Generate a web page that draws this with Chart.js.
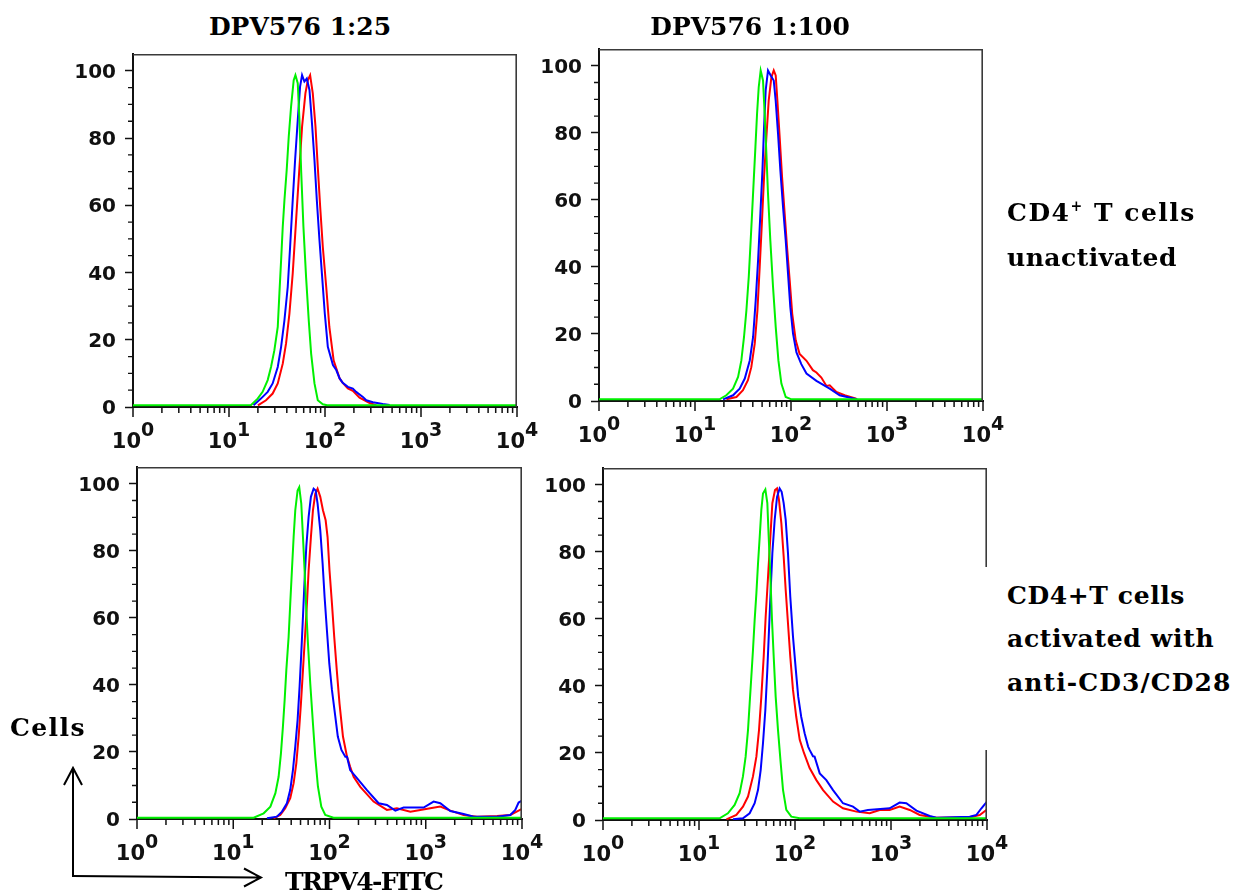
<!DOCTYPE html>
<html><head><meta charset="utf-8">
<script src="https://cdn.jsdelivr.net/npm/chart.js@4.4.1/dist/chart.umd.min.js"></script>
<style>
html,body{margin:0;padding:0;background:#fff;}
body{width:1237px;height:894px;position:relative;overflow:hidden;}
canvas{position:absolute;}
.lbl{position:absolute;font-family:"DejaVu Serif",serif;font-weight:bold;font-size:25px;line-height:25px;color:#000;white-space:nowrap;}
.sup{font-size:14px;position:relative;top:-10px;}
#box{position:absolute;left:985px;top:567px;width:252px;height:183px;background:#fff;}
</style></head><body>
<canvas id="c1"></canvas><canvas id="c2"></canvas><canvas id="c3"></canvas><canvas id="c4"></canvas>
<div class="lbl" style="left:200px;top:14px;width:200px;text-align:center;">DPV576 1:25</div>
<div class="lbl" style="left:650px;top:14px;width:200px;text-align:center;">DPV576 1:100</div>
<div class="lbl" style="left:1007px;top:200px;letter-spacing:1.5px;">CD4<span class="sup">+</span> T cells</div>
<div class="lbl" style="left:1007px;top:245px;letter-spacing:0.5px;">unactivated</div>
<div id="box">
  <div class="lbl" style="left:22px;top:16px;letter-spacing:0.6px;">CD4+T cells</div>
  <div class="lbl" style="left:22px;top:59px;letter-spacing:0.7px;">activated with</div>
  <div class="lbl" style="left:22px;top:103px;letter-spacing:1.1px;">anti-CD3/CD28</div>
</div>
<div class="lbl" style="left:10px;top:715px;letter-spacing:1.4px;">Cells</div>
<div class="lbl" style="left:285px;top:869px;letter-spacing:-1.6px;">TRPV4-FITC</div>
<svg width="1237" height="894" style="position:absolute;left:0;top:0;pointer-events:none">
  <path d="M73,877 L73,769 M64,785 L73,768 L82,785" stroke="#000" stroke-width="2" fill="none"/>
  <path d="M72,876 L261,877.5 M244,868.5 L261,877.5 L244,886.5" stroke="#000" stroke-width="2" fill="none"/>
</svg>
<script>
// ---- tick labels ----
const xMajorTicks = [1, 10, 100, 1000, 10000];
const xTickExponents = ['0', '1', '2', '3', '4'];
const xMinorMultipliers = [2, 3, 4, 5, 6, 7, 8, 9];
const yTicks = [0, 20, 40, 60, 80, 100];
const yMinorTicks = [5, 10, 15, 25, 30, 35, 45, 50, 55, 65, 70, 75, 85, 90, 95];

// ---- series: [fluorescence intensity, % of max] ----
// Panel 1: DPV576 1:25, unactivated
const p1Green = [[1,0.5],[17,0.6],[19.9,2.5],[22.4,4.5],[25.3,8],[27.4,11.9],[29.7,16.9],[32.2,23.8],[33.5,33.8],[34.9,43.7],[36.3,53.6],[37.8,61.5],[39.9,70.5],[41.9,80.4],[44.3,89.3],[47.2,97.2],[49.2,98.7],[52,96.3],[54.2,85.3],[56.4,70.5],[59.6,53.6],[63.5,38.7],[67.7,25.8],[71.7,15.9],[77.7,7],[84.1,2],[94.9,0.8],[105,0.5],[10000,0.5]];
const p1Blue = [[18,0.5],[21.5,2.5],[25.3,4.5],[28.5,7],[32.2,11.9],[34.9,17.9],[37.8,25.8],[40.9,35.7],[43.3,47.6],[46.1,61.5],[48.8,73.4],[52,85.3],[55,95.3],[57.7,98.7],[61,96.8],[64.6,97.7],[68.9,94.3],[72.8,85.3],[77.7,73.4],[82.2,61.5],[87.6,49.6],[93.4,38.7],[99.5,27.8],[107,17.9],[121,12.5],[131,11],[142,8.5],[153,7.2],[173,6],[195,5.5],[211,4.5],[248,3],[269,2],[316,1.4],[400,0.9],[472,0.6]];
const p1Red = [[20,0.5],[24.3,2],[28.5,4],[32.2,7],[36.3,12.9],[39.3,18.9],[42.6,27.8],[46.1,39.7],[50,55.6],[54.2,71.4],[57.7,83.4],[62.5,93.3],[66.2,97.2],[70,98.7],[74.6,93.3],[79.6,83.4],[84.1,71.4],[89.1,59.5],[94.9,47.6],[103,35.7],[111,23.8],[123,13.9],[131,11.5],[142,8.5],[153,7.2],[173,5.5],[195,4.8],[229,2.8],[292,1.2],[343,0.5]];
// Panel 2: DPV576 1:100, unactivated
const p2Green = [[1,0.5],[18,0.5],[21.2,1.7],[24.9,3.7],[28.1,7.2],[30.4,12.1],[32.4,19.1],[34.3,27],[36.3,37],[37.7,45.9],[39.3,55.9],[40.9,65.8],[42.6,75.8],[44.3,85.7],[46.1,93.6],[48.3,98.6],[51.1,95.6],[53.2,85.7],[55.4,73.8],[57.6,61.8],[60.9,47.9],[65,34],[69.3,22.1],[73.9,12.1],[79.4,5.2],[88.1,1.2],[101,0.5],[10000,0.5]];
const p2Blue = [[19.6,0.5],[24.9,1.7],[29.2,3.7],[33,6.7],[37.2,12.1],[40.3,19.1],[42.9,30],[45.4,42],[48,55.9],[50.4,68.8],[52.4,81.7],[54.5,92.7],[57.6,98.6],[61.5,97.1],[66.1,95.6],[69.2,89.7],[73.3,79.7],[77.5,68.8],[82.6,57.9],[88.1,47.9],[93.1,38],[98.4,28],[105,20.1],[114,14.5],[128,11],[145,8.2],[184,6],[253,3.7],[321,1.7],[460,0.7],[490,0.5]];
const p2Red = [[21.2,0.5],[27,1.2],[31.6,3.2],[35.6,6.2],[38.6,10.1],[41.9,17.1],[44.7,27],[47.2,40],[49.9,53.9],[52.4,66.8],[55.4,78.7],[58.6,89.7],[62.5,96.6],[66.1,98.6],[69.3,97.1],[72.1,89.7],[76.2,78.7],[80.7,66.8],[85.9,55.9],[90.9,45.9],[96.9,36],[103,26],[112,18.1],[123,14],[145,12],[169,9.2],[184,8.5],[207,7],[234,4.5],[253,4.7],[297,2.7],[362,1.7],[479,0.7]];
// Panel 3: DPV576 1:25, activated
const p3Green = [[1,0.4],[16.3,0.4],[20.7,1.7],[24.3,3.7],[27.4,7.7],[29.6,12.6],[31.3,19.6],[32.8,27.5],[34.2,35.5],[35.6,44.4],[37.6,54.3],[39.1,64.3],[40.7,74.2],[42.4,84.1],[44.1,92.1],[46.6,98],[48.5,99],[50.9,94.1],[53,84.1],[55.1,74.2],[57.4,62.3],[59.7,52.4],[63.1,40.4],[67.3,28.5],[71.1,18.6],[75.8,9.7],[82.2,3.7],[90.4,1.2],[110,0.4],[10000,0.4]];
const p3Blue = [[22.4,0.2],[28.4,0.7],[32.1,2.2],[36.1,4.7],[39.1,8.7],[41.7,14.6],[44.1,21.6],[46.6,29.5],[48.9,39.5],[50.9,49.4],[53,60.3],[55.1,71.2],[57.4,81.2],[60.7,90.1],[64.1,96.1],[68.4,98.5],[71.8,98],[75.2,94.1],[80.2,86.1],[84.8,76.2],[88.9,66.3],[94,56.3],[99.5,46.4],[106,38.5],[115,30.5],[122,24.6],[133,20.6],[146,18.6],[152,18.6],[164,14.6],[193,12.2],[245,8.6],[324,4.7],[395,4.2],[483,2.5],[589,3.4],[951,3.4],[1207,5.2],[1416,4.7],[1800,2.4],[2474,1.5],[3141,0.7],[5500,0.7],[7557,1.2],[8514,2.7],[9220,4.9],[10000,5.5]];
const p3Red = [[26.2,0.2],[30.8,1.2],[34.7,3.2],[39.1,6.2],[42.4,10.7],[45.2,16.6],[47.8,24.6],[50.5,34.5],[53,44.4],[55.6,54.3],[58.3,64.3],[60.7,74.2],[64.1,84.1],[67.3,92.1],[71.1,97],[75.2,98.5],[80.2,96.1],[85.5,92.1],[91.2,89.1],[95.5,84.1],[100,74.2],[106,64.3],[112,54.3],[119,44.4],[127,34.5],[138,24.6],[152,18.6],[164,15.6],[178,12.6],[209,9.6],[287,5.2],[395,2.7],[502,3.2],[692,2.2],[878,2.7],[1114,3.2],[1416,3.7],[1800,2.5],[2474,1.2],[3408,0.7],[5500,0.9],[7557,1.2],[9220,2.5],[10000,3]];
// Panel 4: DPV576 1:100, activated
const p4Green = [[1,0.5],[16.4,0.5],[20,2],[23.5,4.5],[26.5,8],[28.7,13],[30.6,18.9],[32.4,26.9],[33.7,34.8],[35.1,42.8],[36.5,50.7],[38,59.7],[39.6,67.6],[41.2,76.6],[42.9,84.5],[44.6,92.5],[46.4,97.4],[49.1,98.6],[51.5,94.5],[53.2,84.5],[55.4,72.6],[57.6,59.7],[60,48.7],[62.9,36.8],[66.5,26.9],[71,16.9],[75,9],[81.2,3],[91.6,1],[112,0.5],[10000,0.5]];
const p4Blue = [[22.6,0.2],[28.7,0.5],[33.7,2],[38,5],[41.2,9],[43.9,14.9],[46.4,22.9],[49.1,32.8],[51.5,44.8],[53.6,56.7],[55.8,68.6],[58.1,79.6],[61.4,89.5],[65,96.4],[69.2,98.9],[72.6,97.9],[76.2,94.5],[80,89.5],[84.5,79.6],[89.3,66.6],[95.3,54.7],[102,44.8],[108,36.8],[116,30.8],[126,25.9],[137,21.9],[142,20.9],[154,19],[160,18.9],[181,13.9],[212,11.9],[249,8.9],[316,5],[402,4],[472,2.5],[575,3],[968,3.5],[1230,5.2],[1445,5],[1840,2.8],[2529,1.2],[2972,0.7],[6607,1],[7762,1.5],[8750,3.5],[9690,5],[10000,5.5]];
const p4Red = [[19.3,0.2],[24.5,1.5],[28.7,4],[32.4,7],[36.5,13],[39.6,18.9],[42.2,26.9],[44.6,36.8],[47.2,48.7],[49.5,60.7],[52.4,72.6],[55.4,84.5],[58.1,94.5],[61.9,98.4],[65,98.9],[68.1,95.5],[72.1,88.5],[76.2,78.6],[80,68.6],[84.5,58.7],[89.3,48.7],[95.3,38.8],[103,30.8],[112,23.9],[124,20],[142,15.5],[167,11.9],[196,8.9],[249,5.5],[316,3.5],[436,2.5],[600,2],[762,3],[968,3],[1230,4],[1567,3],[1991,1.5],[2972,0.7],[6607,0.8],[8395,1.5],[9690,2.8],[10000,3.2]];

const seriesColors = ['#00f000', '#0000ff', '#ff0000'];

const panels = [
  {id:'c1', L:133, T:54,  R:517, B:407, series:[p1Green, p1Blue, p1Red]},
  {id:'c2', L:599, T:49,  R:983, B:401, series:[p2Green, p2Blue, p2Red]},
  {id:'c3', L:137, T:467, R:522, B:819, series:[p3Green, p3Blue, p3Red]},
  {id:'c4', L:603, T:468, R:987, B:820, series:[p4Green, p4Blue, p4Red]}
];

const YAXW = 80, XAXH = 50, PADT = 10, PADR = 28;

const decor = {
  id: 'decor',
  afterDraw(chart) {
    const {ctx, chartArea: a, scales: {x, y}} = chart;
    ctx.save();
    ctx.strokeStyle = '#3a3a3a'; ctx.lineWidth = 1.6;
    ctx.beginPath();
    ctx.moveTo(a.left, a.top + 0.8); ctx.lineTo(a.right - 0.8, a.top + 0.8); ctx.lineTo(a.right - 0.8, a.bottom);
    ctx.stroke();
    ctx.strokeStyle = '#111'; ctx.lineWidth = 1.3;
    ctx.beginPath();
    yMinorTicks.forEach(v => { const py = y.getPixelForValue(v); ctx.moveTo(a.left - 5, py); ctx.lineTo(a.left, py); });
    ctx.stroke();
    ctx.lineWidth = 1.5;
    ctx.beginPath();
    xMajorTicks.forEach((v, i) => {
      const px = x.getPixelForValue(v);
      ctx.moveTo(px, a.bottom); ctx.lineTo(px, a.bottom + 10);
      if (i < xMajorTicks.length - 1) {
        xMinorMultipliers.forEach(m => { const q = x.getPixelForValue(v * m); ctx.moveTo(q, a.bottom); ctx.lineTo(q, a.bottom + 6); });
      }
    });
    ctx.stroke();
    ctx.fillStyle = '#111'; ctx.textAlign = 'left'; ctx.textBaseline = 'alphabetic';
    const bigF = 'bold 21px "DejaVu Sans"', smallF = 'bold 19px "DejaVu Sans"';
    xMajorTicks.forEach((v, i) => {
      const px = x.getPixelForValue(v);
      ctx.font = bigF; const w1 = ctx.measureText('10').width;
      ctx.font = smallF; const w2 = ctx.measureText(xTickExponents[i]).width;
      const x0 = px - (w1 + w2) / 2;
      ctx.font = bigF; ctx.fillText('10', x0, a.bottom + 41);
      ctx.font = smallF; ctx.fillText(xTickExponents[i], x0 + w1, a.bottom + 29);
    });
    ctx.restore();
  }
};

panels.forEach(p => {
  const cv = document.getElementById(p.id);
  const W = YAXW + (p.R - p.L) + PADR, H = PADT + (p.B - p.T) + XAXH;
  cv.width = W; cv.height = H;
  cv.style.left = (p.L - YAXW) + 'px'; cv.style.top = (p.T - PADT) + 'px';
  cv.style.width = W + 'px'; cv.style.height = H + 'px';
  new Chart(cv, {
    type: 'line',
    data: {
      datasets: p.series.map((s, i) => ({
        data: s.map(([x, y]) => ({x, y})),
        borderColor: seriesColors[i],
        borderWidth: 2,
        pointRadius: 0,
        fill: false,
        tension: 0,
        order: i
      }))
    },
    options: {
      responsive: false, animation: false, events: [],
      layout: {padding: {left: 0, top: PADT, right: PADR, bottom: 0}},
      plugins: {legend: {display: false}, tooltip: {enabled: false}},
      scales: {
        x: {
          type: 'logarithmic', min: 1, max: 10000,
          afterBuildTicks: s => { s.ticks = xMajorTicks.map(v => ({value: v})); },
          ticks: {display: false},
          grid: {display: false},
          border: {display: true, color: '#111', width: 2},
          afterFit: s => { s.height = XAXH; s.paddingLeft = 0; s.paddingRight = 0; }
        },
        y: {
          type: 'linear', min: 0, max: 105,
          afterBuildTicks: s => { s.ticks = yTicks.map(v => ({value: v})); },
          ticks: {color: '#111', padding: 9, labelOffset: 2,
                  font: {family: '"DejaVu Sans"', weight: 'bold', size: 20},
                  callback: v => String(v)},
          grid: {drawOnChartArea: false, drawTicks: true, tickLength: 8, tickWidth: 1.5, tickColor: '#111'},
          border: {display: true, color: '#111', width: 2},
          afterFit: s => { s.width = YAXW; s.paddingTop = 0; s.paddingBottom = 0; }
        }
      }
    },
    plugins: [decor]
  });
});
</script>
</body></html>
